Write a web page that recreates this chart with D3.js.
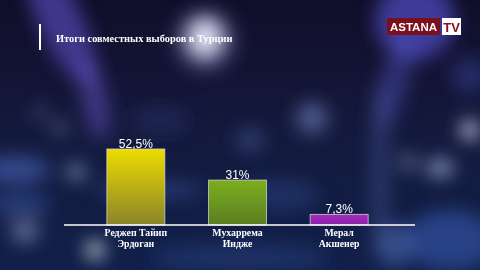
<!DOCTYPE html>
<html>
<head>
<meta charset="utf-8">
<script src="https://cdn.jsdelivr.net/npm/d3@7"></script>
<style>
  html, body { margin: 0; padding: 0; background: #0d1030; overflow: hidden; }
  svg { display: block; }
</style>
</head>
<body>
<script>
// chart data
const candidates = ["Erdogan", "Ince", "Aksener"];
const nameLines = [["Реджеп Тайип", "Эрдоган"], ["Мухаррема", "Индже"], ["Мерал", "Акшенер"]];
const shares = [52.5, 31, 7.3];
const shareLabels = ["52,5%", "31%", "7,3%"];
const title = "Итоги совместных выборов в Турции";

const W = 480, H = 270;
const svg = d3.select("body").append("svg").attr("width", W).attr("height", H);
const defs = svg.append("defs");

// background bokeh (decoration only): x, y, rx, ry, colour, opacity, angle
const bokeh = [
  [60, 20, 22, 70, "#6a55d8", 0.55, -25],
  [95, 100, 12, 40, "#7a60e0", 0.45, -10],
  [205, 38, 18, 20, "#ffffff", 0.95, 0],
  [205, 40, 32, 32, "#9a9ae0", 0.3, 0],
  [415, 20, 40, 40, "#5a58e0", 0.6, 0],
  [395, 80, 14, 50, "#5a5ad0", 0.4, 15],
  [380, 170, 8, 90, "#6a7ed0", 0.3, 0],
  [470, 130, 10, 10, "#e8ecff", 0.75, 0],
  [440, 168, 14, 9, "#c0ccf8", 0.65, 0],
  [408, 162, 7, 7, "#d0d8ff", 0.55, 0],
  [312, 118, 16, 16, "#8ea4e8", 0.45, 0],
  [250, 140, 14, 12, "#6078c0", 0.35, 0],
  [15, 170, 35, 14, "#4a68c0", 0.6, 0],
  [76, 172, 10, 8, "#b0c4f0", 0.6, 0],
  [60, 128, 7, 7, "#a0b0e0", 0.45, 0],
  [40, 112, 7, 7, "#8090c8", 0.4, 0],
  [150, 190, 55, 9, "#3c5aa8", 0.45, 0],
  [95, 250, 9, 9, "#ffffff", 0.8, 0],
  [25, 232, 14, 10, "#c8d4ff", 0.45, 0],
  [20, 205, 30, 12, "#3e5cb0", 0.5, 0],
  [450, 240, 45, 30, "#3d5fb8", 0.55, 0],
  [395, 245, 18, 22, "#6080d0", 0.45, 0],
  [240, 258, 90, 14, "#28407e", 0.55, 0],
  [280, 195, 40, 16, "#2a4488", 0.45, 0],
  [470, 75, 18, 18, "#4050b0", 0.4, 0],
  [160, 120, 30, 14, "#27306a", 0.5, 0]
];

const bg = defs.append("linearGradient").attr("id", "bg")
  .attr("x1", 0).attr("y1", 0).attr("x2", 0).attr("y2", 1);
bg.append("stop").attr("offset", "0%").attr("stop-color", "#110e2a");
bg.append("stop").attr("offset", "50%").attr("stop-color", "#141a3e");
bg.append("stop").attr("offset", "100%").attr("stop-color", "#11204a");

defs.append("filter").attr("id", "blur")
  .attr("x", "-100%").attr("y", "-100%").attr("width", "300%").attr("height", "300%")
  .append("feGaussianBlur").attr("stdDeviation", 9);

svg.append("rect").attr("width", W).attr("height", H).attr("fill", "url(#bg)");

svg.append("g").attr("filter", "url(#blur)")
  .selectAll("ellipse")
  .data(bokeh)
  .enter()
  .append("ellipse")
  .attr("transform", d => "translate(" + d[0] + "," + d[1] + ") rotate(" + d[6] + ")")
  .attr("rx", d => d[2])
  .attr("ry", d => d[3])
  .attr("fill", d => d[4])
  .attr("opacity", d => d[5]);

// title
svg.append("rect").attr("x", 39).attr("y", 24).attr("width", 2).attr("height", 26).attr("fill", "#ffffff");
svg.append("text")
  .attr("x", 56).attr("y", 42)
  .attr("font-family", "Liberation Serif, serif")
  .attr("font-weight", "bold")
  .attr("font-size", 10.4)
  .attr("fill", "#ffffff")
  .text(title);

// logo
const logo = svg.append("g");
logo.append("rect").attr("x", 387).attr("y", 18).attr("width", 53).attr("height", 17).attr("fill", "#7a0f1e");
logo.append("text").attr("x", 413.5).attr("y", 31).attr("text-anchor", "middle")
  .attr("font-family", "Liberation Sans, Arial, sans-serif").attr("font-weight", "bold")
  .attr("font-size", 11.5).attr("fill", "#ffffff").text("ASTANA");
logo.append("rect").attr("x", 442).attr("y", 18).attr("width", 19).attr("height", 17).attr("fill", "#ffffff");
logo.append("text").attr("x", 451.5).attr("y", 31.5).attr("text-anchor", "middle")
  .attr("font-family", "Liberation Sans, Arial, sans-serif").attr("font-weight", "bold")
  .attr("font-size", 13).attr("fill", "#8a0f20").text("TV");

// scales
const xScale = d3.scaleBand().domain(candidates)
  .range([85, 390])
  .paddingInner(0.43).paddingOuter(0.215);
const yScale = d3.scaleLinear().domain([0, 52.5]).range([225, 149]);

const barColors = [["#ecdc00", "#8a8428"], ["#7cae1e", "#5a7e22"], ["#a22cc0", "#8a20a8"]];
barColors.forEach((c, i) => {
  const g = defs.append("linearGradient").attr("id", "bar" + i)
    .attr("x1", 0).attr("y1", 0).attr("x2", 0).attr("y2", 1);
  g.append("stop").attr("offset", "0%").attr("stop-color", c[0]);
  g.append("stop").attr("offset", "100%").attr("stop-color", c[1]);
});

const data = candidates.map((c, i) => ({ c: c, v: shares[i], label: shareLabels[i], names: nameLines[i], i: i }));

svg.selectAll("rect.bar")
  .data(data)
  .enter()
  .append("rect")
  .attr("class", "bar")
  .attr("x", d => xScale(d.c))
  .attr("y", d => yScale(d.v))
  .attr("width", xScale.bandwidth())
  .attr("height", d => yScale(0) - yScale(d.v))
  .attr("fill", d => "url(#bar" + d.i + ")")
  .attr("stroke", "#d8d8d0")
  .attr("stroke-opacity", 0.75)
  .attr("stroke-width", 1);

// baseline
svg.append("line")
  .attr("x1", 64).attr("x2", 415)
  .attr("y1", yScale(0)).attr("y2", yScale(0))
  .attr("stroke", "#ffffff").attr("stroke-width", 1.5);

// value labels
svg.selectAll("text.val")
  .data(data)
  .enter()
  .append("text")
  .attr("class", "val")
  .attr("x", d => xScale(d.c) + xScale.bandwidth() / 2)
  .attr("y", d => yScale(d.v) - 1)
  .attr("text-anchor", "middle")
  .attr("font-family", "Liberation Sans, Arial, sans-serif")
  .attr("font-size", 12)
  .attr("fill", "#ffffff")
  .text(d => d.label);

// category labels
svg.selectAll("text.cat")
  .data(data)
  .enter()
  .append("text")
  .attr("class", "cat")
  .attr("text-anchor", "middle")
  .attr("font-family", "Liberation Serif, serif")
  .attr("font-weight", "bold")
  .attr("font-size", 9.8)
  .attr("fill", "#ffffff")
  .each(function(d) {
    const cx = xScale(d.c) + xScale.bandwidth() / 2;
    d3.select(this).selectAll("tspan")
      .data(d.names)
      .enter()
      .append("tspan")
      .attr("x", cx)
      .attr("y", (n, j) => 236 + j * 10.5)
      .text(n => n);
  });
</script>
</body>
</html>
